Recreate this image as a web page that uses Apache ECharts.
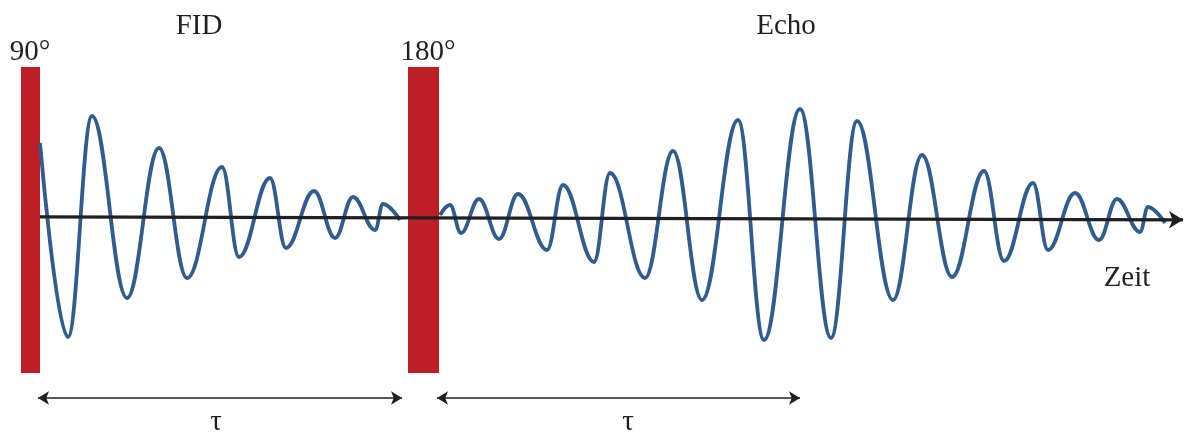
<!DOCTYPE html>
<html>
<head>
<meta charset="utf-8">
<script src="https://cdn.jsdelivr.net/npm/echarts@6/dist/echarts.min.js"></script>
<style>html,body{margin:0;padding:0;background:#fff}#c{width:1184px;height:434px}</style>
</head>
<body>
<div id="c"></div>
<script>
// FID (free induction decay): extrema (time, amplitude)
const fidX = [40, 68, 92, 127, 159, 187, 222, 239, 270, 286, 314, 335, 353, 375, 383, 400];
const fidY = [74, -120, 101, -81, 69, -61, 50, -40, 39, -31, 26, -21, 20, -13, 13, -3];
// Echo: extrema
const echoX = [440, 450, 461, 479, 499, 518, 547, 563, 594, 610, 645, 673, 702, 738, 764, 800, 831, 857, 893, 922, 952, 984, 1004, 1033, 1048, 1075, 1099, 1117, 1140, 1148, 1165];
const echoY = [2, 12, -16, 18, -22, 23, -33, 32, -45, 44, -61, 66, -83, 97, -123, 108, -121, 96, -83, 62, -60, 46, -44, 34, -33, 24, -23, 18, -15, 10, -6];
// Pulses (start time, end time, top, bottom)
const pulseStart = [21, 408];
const pulseEnd = [40, 439];
const pulseTop = 150, pulseBottom = -156;
// Time axis
const axisStart = [40, 0.2], axisEnd = [1183, -2.8];
// tau spans
const tauStart = [38, 437], tauEnd = [402, 800], tauLevel = -181;
// Texts
const labelText = ['FID', 'Echo', '90°', '180°', 'Zeit', 'τ', 'τ'];
const labelX = [199, 786, 30, 428, 1127, 216, 628];
const labelY = [191, 191, 165, 165, -61, -205, -205];

const zip = (a, b) => a.map((v, i) => [v, b[i]]);
const chart = echarts.init(document.getElementById('c'));
const textColor = '#231f20';
const waveStyle = {color: '#305c8e', width: 3.8};
chart.setOption({
  animation: false,
  grid: {left: 0, right: 0, top: 0, bottom: 0},
  xAxis: {type: 'value', min: 0, max: 1184, show: false},
  yAxis: {type: 'value', min: -217, max: 217, show: false},
  series: [
    {
      type: 'line', data: [], silent: true,
      markLine: {
        silent: true, animation: false,
        symbol: ['none', 'arrow'], symbolSize: [13, 14],
        label: {show: false},
        lineStyle: {color: textColor, width: 3.2, type: 'solid'},
        data: [[{coord: axisStart}, {coord: axisEnd}]]
      },
      z: 2
    },
    {
      type: 'line', data: [], silent: true,
      markLine: {
        silent: true, animation: false,
        symbol: ['arrow', 'arrow'], symbolSize: [10, 11],
        label: {show: false},
        lineStyle: {color: textColor, width: 1.6, type: 'solid'},
        data: tauStart.map((s, i) => [{coord: [s, tauLevel]}, {coord: [tauEnd[i], tauLevel]}])
      }
    },
    {
      type: 'line', data: zip(fidX, fidY), smooth: 0.4, smoothMonotone: 'x', showSymbol: false,
      lineStyle: waveStyle, z: 3
    },
    {
      type: 'line', data: zip(echoX, echoY), smooth: 0.4, smoothMonotone: 'x', showSymbol: false,
      lineStyle: waveStyle, z: 3
    },
    {
      type: 'line', data: [], silent: true, z: 5,
      markArea: {
        silent: true,
        itemStyle: {color: '#be1e26', opacity: 1},
        data: pulseStart.map((s, i) => [{coord: [s, pulseTop]}, {coord: [pulseEnd[i], pulseBottom]}])
      }
    },
    {
      type: 'scatter', symbolSize: 1, silent: true, z: 10,
      itemStyle: {color: '#000', opacity: 0},
      data: labelText.map((t, i) => [labelX[i], labelY[i], t]),
      label: {
        show: true, position: 'inside', formatter: p => p.data[2], opacity: 1,
        textBorderWidth: 0, textShadowBlur: 0,
        fontFamily: '"Liberation Serif", "DejaVu Serif", serif', fontSize: 29, color: textColor
      }
    }
  ]
});
</script>
</body>
</html>
